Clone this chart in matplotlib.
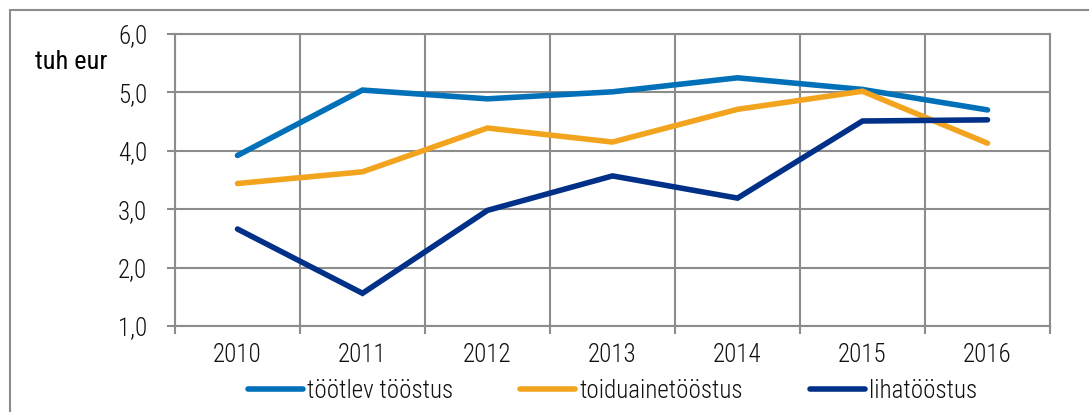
import matplotlib
matplotlib.use('Agg')
import matplotlib.pyplot as plt
from matplotlib.patches import Rectangle
from matplotlib.ticker import FuncFormatter
import numpy as np

plt.rcParams['font.family'] = ['Roboto Condensed', 'Liberation Sans Narrow', 'Roboto', 'DejaVu Sans']
plt.rcParams['font.weight'] = 'light'

years = ['2010', '2011', '2012', '2013', '2014', '2015', '2016']
tootlev = [3.92, 5.04, 4.89, 5.01, 5.25, 5.05, 4.70]
toiduaine = [3.44, 3.64, 4.39, 4.15, 4.71, 5.02, 4.13]
liha = [2.66, 1.56, 2.98, 3.57, 3.19, 4.51, 4.53]

series = [
    ('töötlev tööstus', tootlev, '#0070b8'),
    ('toiduainetööstus', toiduaine, '#f2a41f'),
    ('lihatööstus', liha, '#003087'),
]

grid_col = '#8c8c8c'
fs = 18

fig = plt.figure(figsize=(10.89, 4.12), dpi=100)
ax = fig.add_axes([175 / 1089, 1 - 326 / 412, 875 / 1089, 292 / 412])

x = np.arange(len(years))
for name, vals, col in series:
    ax.plot(x, vals, color=col, lw=4, label=name, solid_capstyle='round', solid_joinstyle='miter')

ax.set_xlim(-0.5, len(years) - 0.5)
ax.set_ylim(1, 6)
ax.set_yticks(np.arange(1, 7))
ax.yaxis.set_major_formatter(FuncFormatter(lambda v, p: f'{v:.1f}'.replace('.', ',')))

# kategooriate piirid = jooned, sildid keskele
ax.set_xticks(np.arange(-0.5, len(years)))
ax.set_xticklabels([])
ax.set_xticks(x, minor=True)
ax.set_xticklabels(years, minor=True)
ax.tick_params(axis='x', which='minor', length=0, pad=12, labelsize=fs, colors='#111111')
ax.tick_params(axis='x', which='major', length=6, width=1.5, color=grid_col)
ax.tick_params(axis='y', length=6, width=1.5, color=grid_col, pad=14, labelsize=fs, labelcolor='#111111')

ax.grid(True, which='major', color=grid_col, lw=1.5)
ax.set_axisbelow(True)
for s in ax.spines.values():
    s.set_color(grid_col)
    s.set_linewidth(1.5)

fig.text(35 / 1089, 1 - 62 / 412, 'tuh eur', fontsize=fs + 1, fontweight='normal',
         va='center', ha='left', color='#000000')

leg = ax.legend(loc='center', bbox_to_anchor=(0.5, (326 - 391) / 292), ncol=3, frameon=False,
                fontsize=fs, handlelength=2.2, handletextpad=0.15, columnspacing=2.7,
                borderaxespad=0, borderpad=0)
for t in leg.get_texts():
    t.set_color('#111111')

# välimine raam
fig.patches.append(Rectangle((10 / 1089, -0.05), 1.1, 1 - 10 / 412 + 0.05, transform=fig.transFigure,
                             fill=False, edgecolor=grid_col, lw=1.5))

fig.savefig('out.png', dpi=100)
